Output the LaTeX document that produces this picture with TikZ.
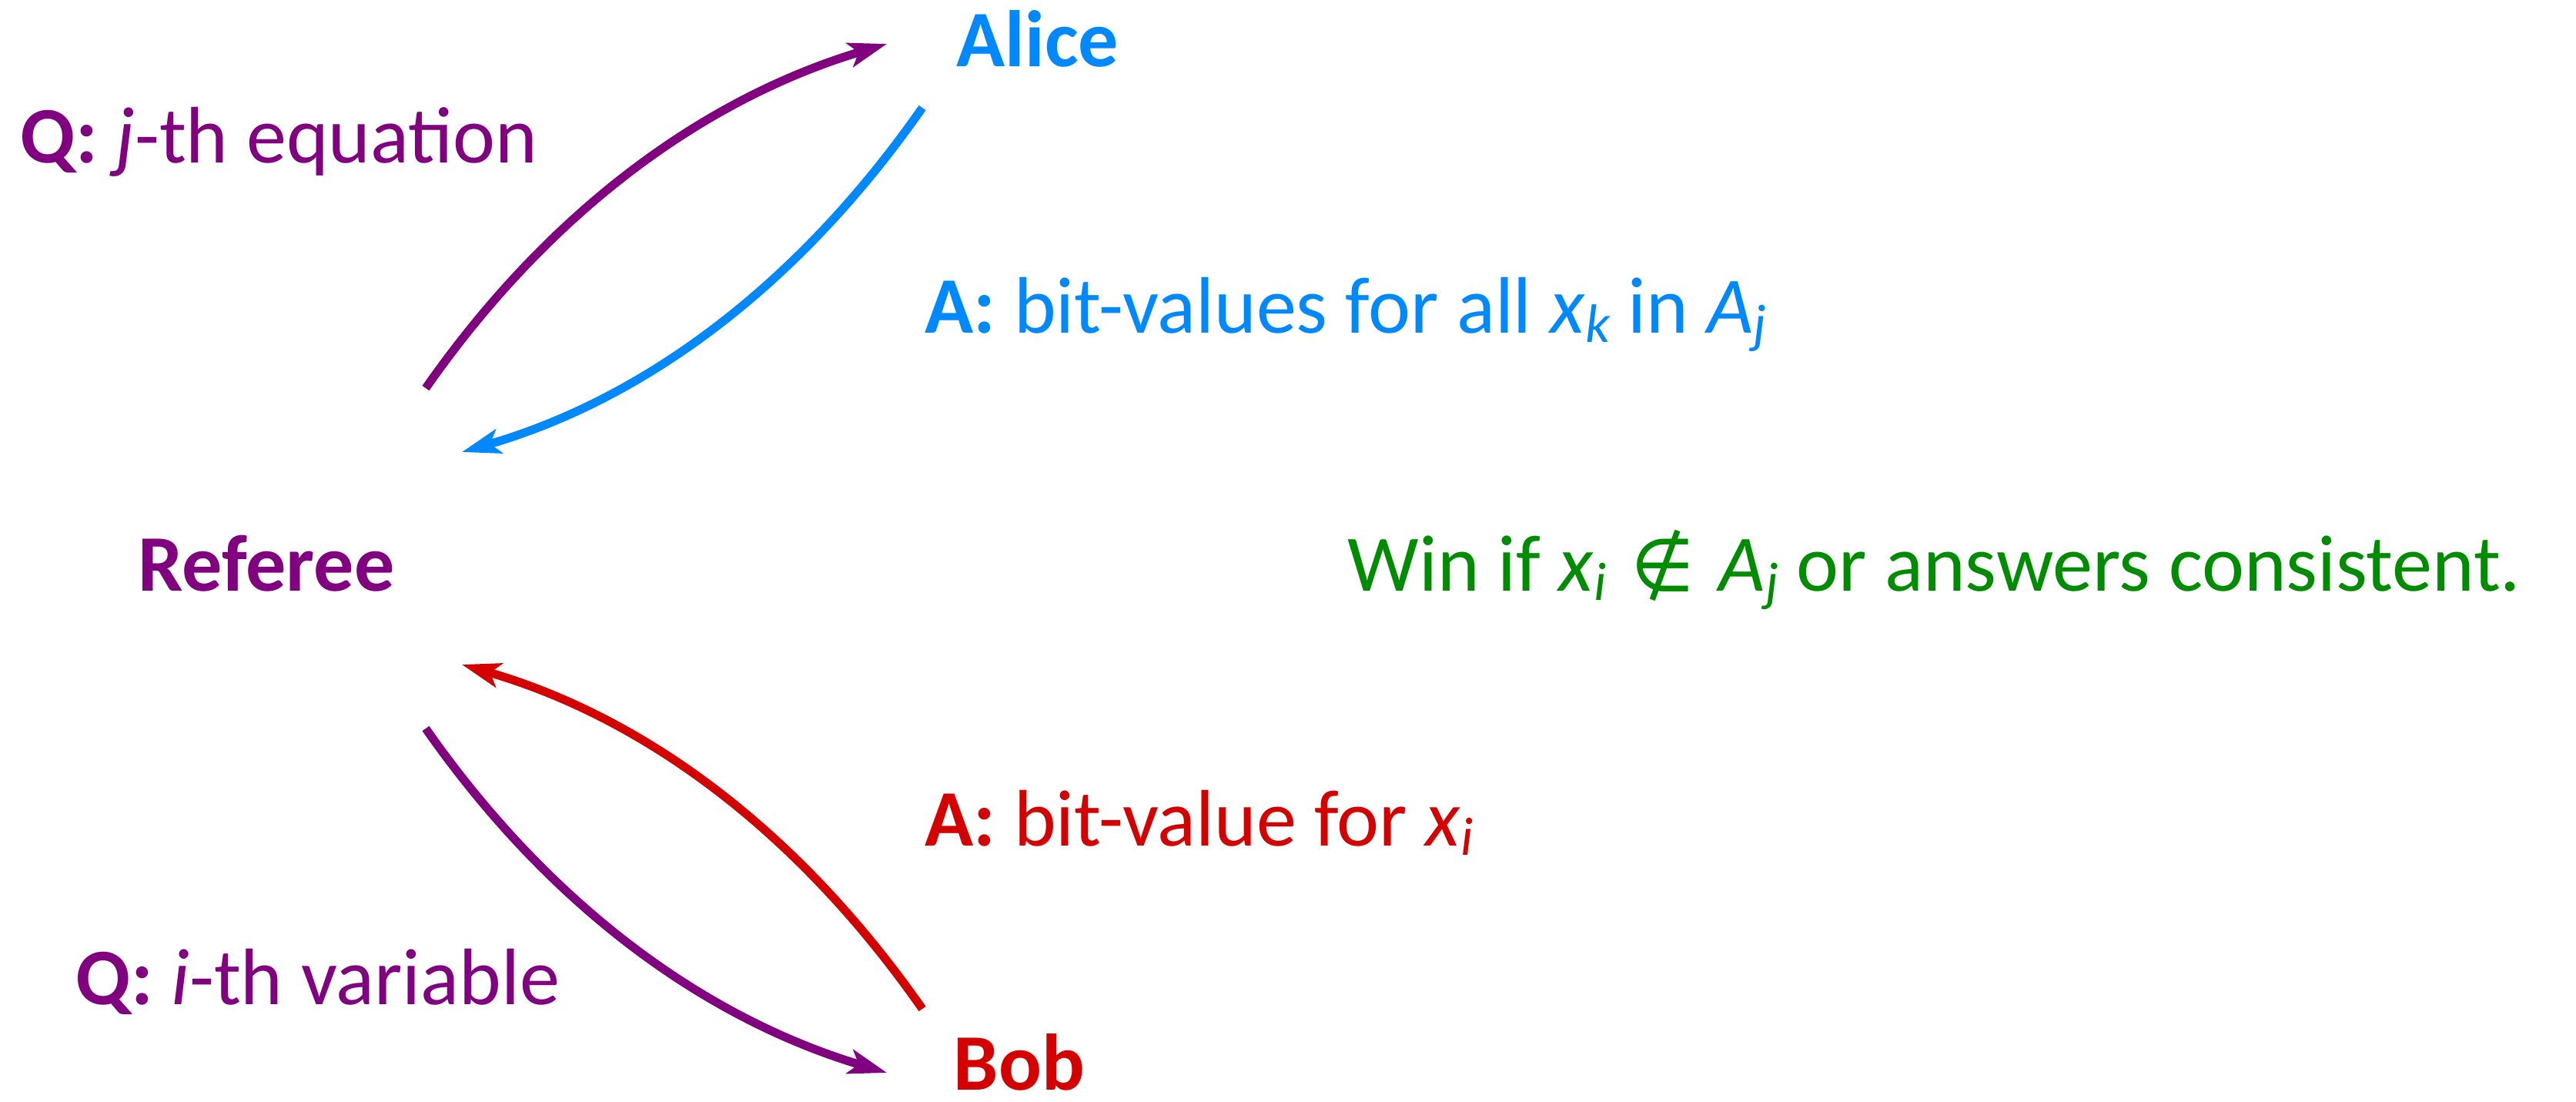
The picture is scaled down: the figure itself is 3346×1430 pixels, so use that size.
\documentclass[tikz,border=0pt]{standalone}
\usepackage{fontspec}
\setmainfont{Carlito}
\newfontfamily\symfnt{DejaVu Sans}
\usetikzlibrary{arrows.meta}
\definecolor{cpurple}{RGB}{128,0,128}
\definecolor{cblue}{RGB}{0,136,255}
\definecolor{cred}{RGB}{212,0,0}
\definecolor{cgreen}{RGB}{0,140,0}
\newcommand{\subx}[1]{\raisebox{-0.12em}{\fontsize{20pt}{20pt}\selectfont\itshape #1}}
\tikzset{
  lbl/.style={inner sep=0pt, anchor=base west, font=\fontsize{29.6pt}{36pt}\selectfont},
  conn/.style={line width=0.11cm, -{Stealth[length=0.5cm,width=0.32cm,inset=0.12cm]}},
}
\begin{document}
\begin{tikzpicture}[x=0.01cm,y=-0.01cm]
\useasboundingbox (0,0) rectangle (3346,1430);
% labels
\node[lbl, text=cpurple] (q1) at (26,211) {\textbf{Q:} \textit{j}-th equation};
\node[lbl, text=cblue] (alice) at (1242,87) {\textbf{Alice}};
\node[lbl, text=cblue] (a1) at (1201,432) {\textbf{A:} bit-values for all \textit{x}\subx{k} in \textit{A}\subx{j}};
\node[lbl, text=cpurple] (referee) at (179,767) {\textbf{Referee}};
\node[lbl, text=cgreen] (win) at (1750,767) {Win if \textit{x}\subx{i}\hspace{0.08em} {\symfnt\fontsize{27pt}{30pt}\selectfont ∉}\hspace{0.08em} \textit{A}\subx{j} or answers consistent.};
\node[lbl, text=cred] (a2) at (1201,1098) {\textbf{A:} bit-value for \textit{x}\subx{i}};
\node[lbl, text=cpurple] (q2) at (98,1304) {\textbf{Q:} \textit{i}-th variable};
\node[lbl, text=cred] (bob) at (1238,1415) {\textbf{Bob}};
% connector end points
\coordinate (r1) at (553,504);
\coordinate (al1) at (1152,57);
\coordinate (al2) at (1198,140);
\coordinate (r2) at (600,587);
\coordinate (b1) at (1198,1310);
\coordinate (r3) at (600,863);
\coordinate (r4) at (553,946);
\coordinate (b2) at (1152,1393);
% connectors
\draw[conn, cpurple] (r1) .. controls (711,278) and (911,129) .. (al1);
\draw[conn, cblue] (al2) .. controls (1038,369) and (839,518) .. (r2);
\draw[conn, cred] (b1) .. controls (1038,1081) and (839,932) .. (r3);
\draw[conn, cpurple] (r4) .. controls (711,1172) and (911,1321) .. (b2);
\end{tikzpicture}
\end{document}
